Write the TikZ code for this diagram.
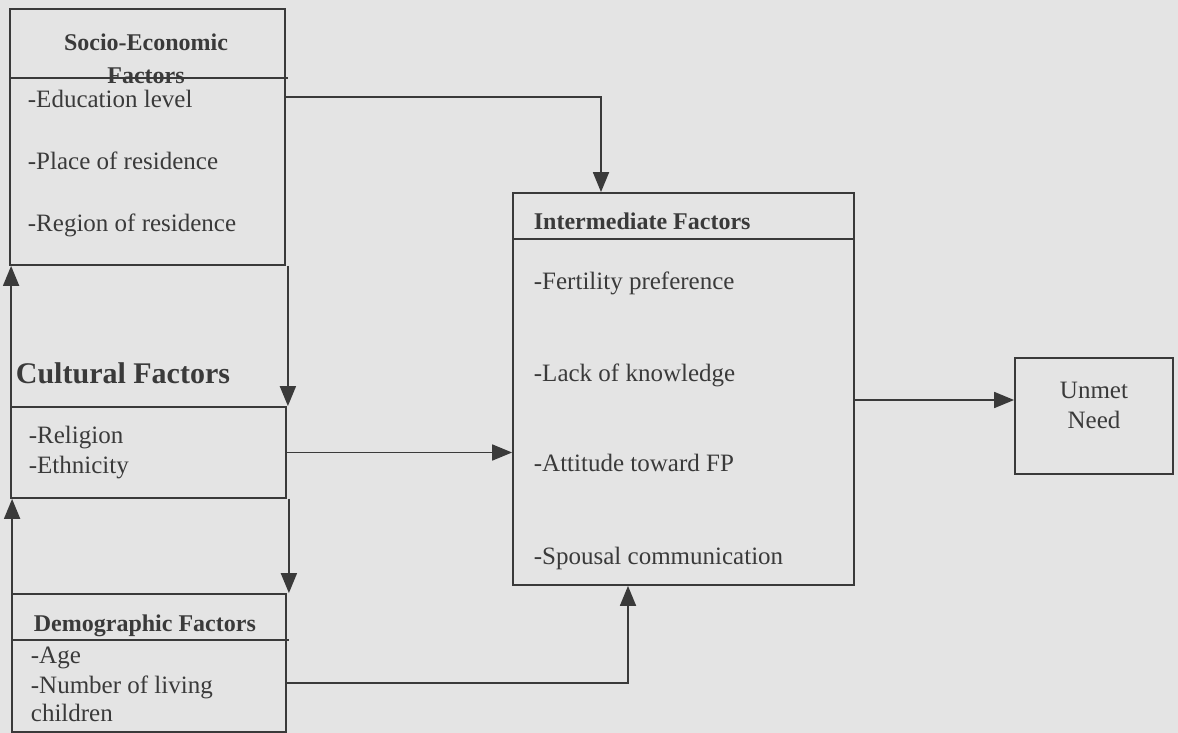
\documentclass[tikz,border=0pt]{standalone}
\usepackage{fontspec}
\setmainfont{Liberation Serif}
\usetikzlibrary{arrows.meta,positioning,calc}
\definecolor{paper}{HTML}{E4E4E4}
\definecolor{ink}{HTML}{3A3A3A}

\begin{document}
\begin{tikzpicture}[x=1pt, y=-1pt, line width=1.8pt]
            \tikzset{box/.style={draw=ink, rectangle, inner sep=0pt},
                item/.style={anchor=west, inner sep=0pt, text=ink, font=\fontsize{25}{30}\selectfont, text height=17pt, text depth=5pt},
                head/.style={item, font=\fontsize{24}{33}\selectfont\bfseries},
                arr/.style={draw=ink, -{Triangle[length=20pt,width=16pt]}}}

            % page
            \fill[paper] (0,0) rectangle (1178,733);

            % Socio-economic factors
            \node[box, minimum width=275pt, minimum height=256pt] (socio) at (147.5,137) {};
            \draw[ink] (socio.west |- 0,78) -- ([xshift=2pt]socio.east |- 0,78);
            \node[head, anchor=center, align=center] (sociohead) at (146,78) {Socio-Economic\\Factors};
            \foreach \t/\y in {-Education level/102, -Place of residence/163, -Region of residence/225} {
                    \node[item] (socio\y) at (27,\y) {\t};
                }

            % Cultural factors
            \node[item, font=\fontsize{30}{36}\selectfont\bfseries] (culthead) at (15,377) {Cultural Factors};
            \node[box, minimum width=275pt, minimum height=91pt] (cult) at (148.5,452.5) {};
            \foreach \t/\y in {-Religion/437, -Ethnicity/467} {
                    \node[item] (cult\y) at (28,\y) {\t};
                }

            % Demographic factors
            \node[box, minimum width=274pt, minimum height=138pt] (demo) at (149,663) {};
            \draw[ink] (demo.west |- 0,640) -- ([xshift=2pt]demo.east |- 0,640);
            \node[head] (demohead) at (33,625) {Demographic Factors};
            \foreach \t/\y in {-Age/657, -Number of living/687, children/715} {
                    \node[item] (demo\y) at (30,\y) {\t};
                }

            % Intermediate factors
            \node[box, minimum width=341pt, minimum height=392pt] (inter) at (683.5,389) {};
            \draw[ink] (inter.west |- 0,239) -- (inter.east |- 0,239);
            \node[head] (interhead) at (533,223) {Intermediate Factors};
            \foreach \t/\y in {-Fertility preference/283, -Lack of knowledge/375, -Attitude toward FP/465, -Spousal communication/558} {
                    \node[item] (inter\y) at (533,\y) {\t};
                }

            % Outcome
            \node[box, minimum width=158pt, minimum height=116pt] (unmet) at (1094,416) {};
            \node[text=ink, align=center, font=\fontsize{25}{30}\selectfont] (unmettext) at (1094,405) {Unmet\\Need};

            % links between the left boxes
            \draw[arr] ([xshift=2pt]socio.south east) -- ([xshift=2pt]socio.south east |- cult.north);
            \draw[arr] ([xshift=1pt]cult.north west) -- ([xshift=1pt]cult.north west |- socio.south);
            \draw[arr] ([xshift=2pt]cult.south east) -- ([xshift=2pt]cult.south east |- demo.north);
            \draw[arr] ([xshift=1pt]demo.north west) -- ([xshift=1pt]demo.north west |- cult.south);

            % links to the intermediate factors
            \draw[arr] ([yshift=-89pt]socio.north east) -| ([xshift=-82.5pt]inter.north);
            \draw[arr] (cult.east) -- (cult.east -| inter.west);
            \draw[arr] ([yshift=-20pt]demo.east) -| ([xshift=-55.5pt]inter.south);
            \draw[arr] ([yshift=-11pt]inter.east) -- ([yshift=-11pt]inter.east -| unmet.west);

        \end{tikzpicture}
\end{document}
